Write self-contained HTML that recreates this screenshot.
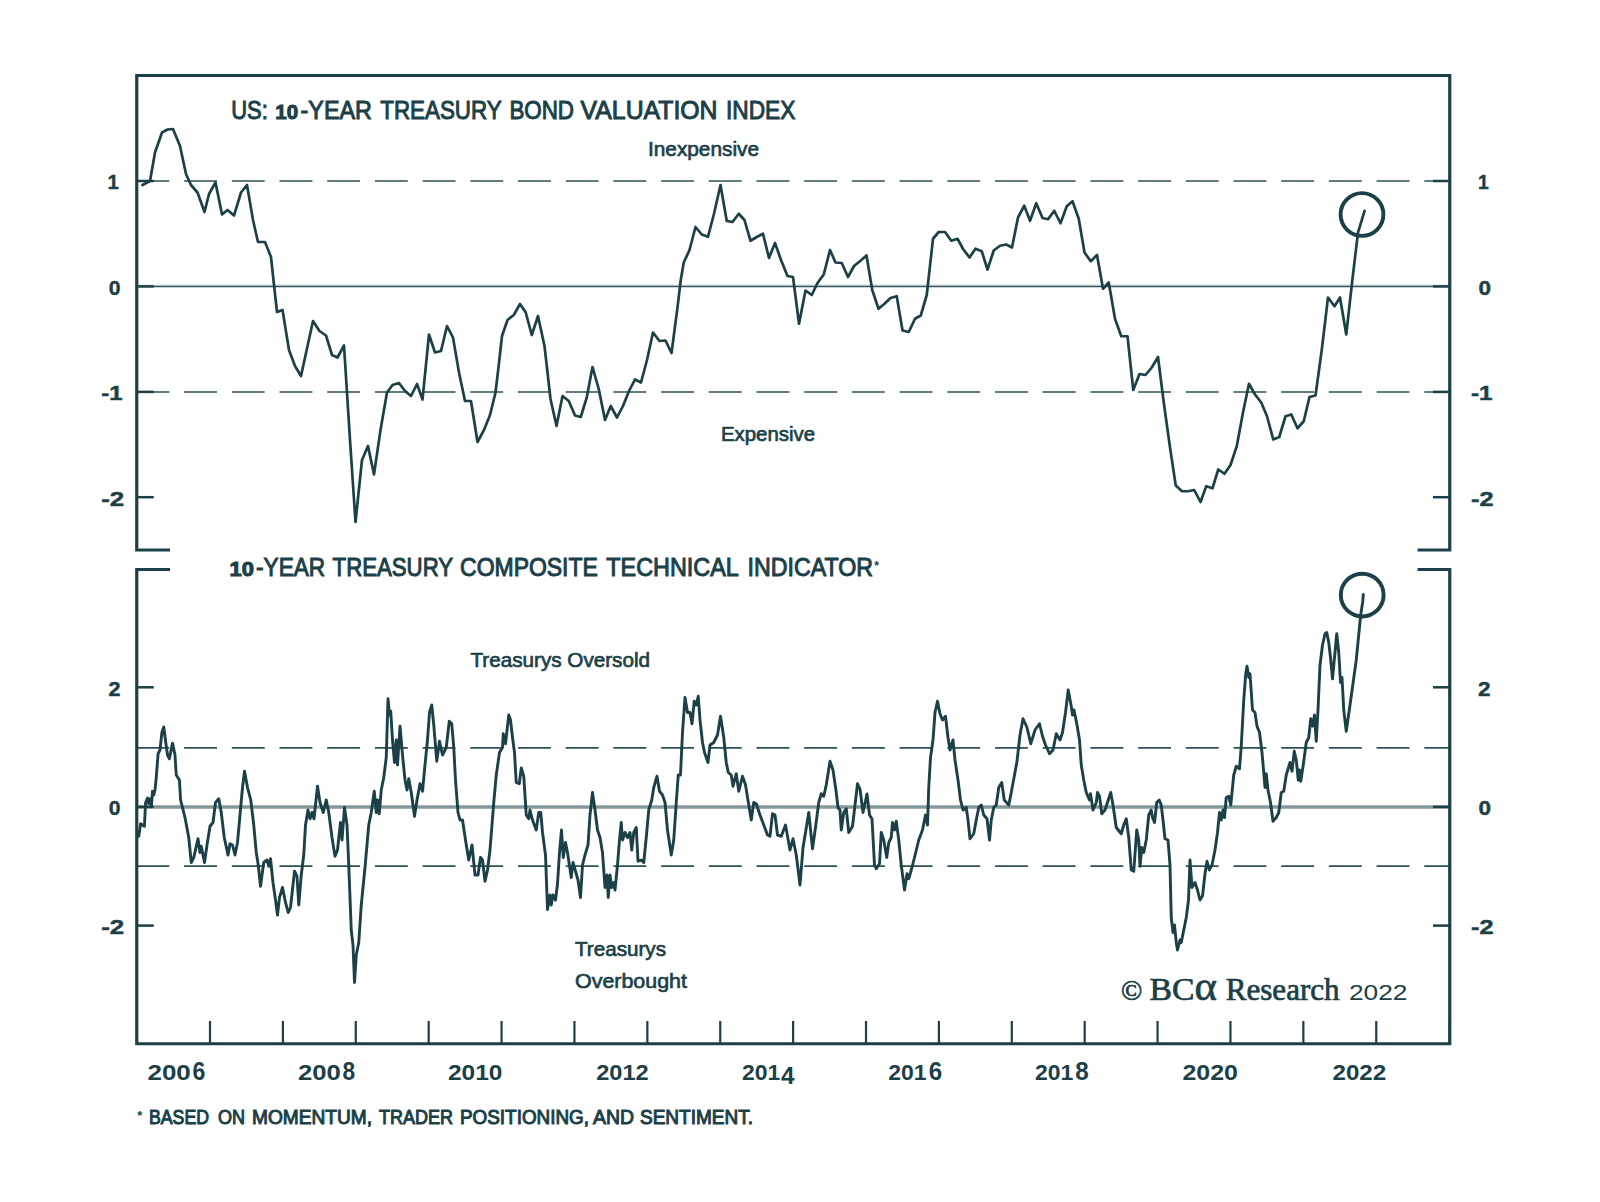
<!DOCTYPE html>
<html lang="en"><head><meta charset="utf-8"><title>US 10-Year Treasury Valuation and Technical Indicator</title>
<style>html,body{margin:0;padding:0;background:#fff}body{width:1600px;height:1202px;overflow:hidden}svg{display:block}text{font-family:"Liberation Sans",sans-serif;fill:#1b4047}.b{font-weight:bold}.sb{stroke:#1b4047;stroke-width:1px}.md{stroke:#1b4047;stroke-width:.65px}.yl{stroke:#1b4047;stroke-width:.45px}.ns{stroke:none}.sans{font-family:"Liberation Sans",sans-serif}.ser{font-family:"Liberation Serif",serif}</style></head><body>
<svg width="1600" height="1202" viewBox="0 0 1600 1202">
<rect width="1600" height="1202" fill="#fff"/>
<g fill="none" stroke="#2f5056" stroke-width="1.7" stroke-dasharray="32.9 14.8">
<line x1="136.4" y1="181.0" x2="1449.75" y2="181.0"/>
<line x1="136.4" y1="392.0" x2="1449.75" y2="392.0"/>
<line x1="136.4" y1="747.9" x2="1449.75" y2="747.9"/>
<line x1="136.4" y1="866.1" x2="1449.75" y2="866.1"/>
</g>
<line x1="136.75" y1="285.3" x2="1449.75" y2="285.3" stroke="#d6e0de" stroke-width="1.6"/>
<line x1="136.75" y1="286.5" x2="1449.75" y2="286.5" stroke="#35555a" stroke-width="1.5"/>
<line x1="136.75" y1="807" x2="1449.75" y2="807" stroke="#86999a" stroke-width="3.3"/>
<g fill="none" stroke="#1b4047" stroke-width="3.2" stroke-linejoin="miter">
<polyline points="170,550 136.75,550 136.75,75.5 1449.75,75.5 1449.75,550 1417.5,550"/>
<polyline points="170,569.5 136.75,569.5 136.75,1043.75 1449.75,1043.75 1449.75,569.5 1417.5,569.5"/>
</g>
<g stroke="#1b4047" stroke-width="2.5">
<line x1="136.75" y1="181.0" x2="153.75" y2="181.0"/><line x1="1433" y1="181.0" x2="1449.75" y2="181.0"/>
<line x1="136.75" y1="286.4" x2="153.75" y2="286.4"/><line x1="1433" y1="286.4" x2="1449.75" y2="286.4"/>
<line x1="136.75" y1="391.9" x2="153.75" y2="391.9"/><line x1="1433" y1="391.9" x2="1449.75" y2="391.9"/>
<line x1="136.75" y1="497.2" x2="153.75" y2="497.2"/><line x1="1433" y1="497.2" x2="1449.75" y2="497.2"/>
<line x1="136.75" y1="687.3" x2="153.75" y2="687.3"/><line x1="1433" y1="687.3" x2="1449.75" y2="687.3"/>
<line x1="136.75" y1="806.9" x2="153.75" y2="806.9"/><line x1="1433" y1="806.9" x2="1449.75" y2="806.9"/>
<line x1="136.75" y1="925.6" x2="153.75" y2="925.6"/><line x1="1433" y1="925.6" x2="1449.75" y2="925.6"/>
</g>
<g stroke="#1b4047" stroke-width="2.2">
<line x1="210.00" y1="1021" x2="210.00" y2="1043.75"/>
<line x1="282.89" y1="1021" x2="282.89" y2="1043.75"/>
<line x1="355.78" y1="1021" x2="355.78" y2="1043.75"/>
<line x1="428.67" y1="1021" x2="428.67" y2="1043.75"/>
<line x1="501.56" y1="1021" x2="501.56" y2="1043.75"/>
<line x1="574.45" y1="1021" x2="574.45" y2="1043.75"/>
<line x1="647.34" y1="1021" x2="647.34" y2="1043.75"/>
<line x1="720.23" y1="1021" x2="720.23" y2="1043.75"/>
<line x1="793.12" y1="1021" x2="793.12" y2="1043.75"/>
<line x1="866.01" y1="1021" x2="866.01" y2="1043.75"/>
<line x1="938.90" y1="1021" x2="938.90" y2="1043.75"/>
<line x1="1011.79" y1="1021" x2="1011.79" y2="1043.75"/>
<line x1="1084.68" y1="1021" x2="1084.68" y2="1043.75"/>
<line x1="1157.57" y1="1021" x2="1157.57" y2="1043.75"/>
<line x1="1230.46" y1="1021" x2="1230.46" y2="1043.75"/>
<line x1="1303.35" y1="1021" x2="1303.35" y2="1043.75"/>
<line x1="1376.24" y1="1021" x2="1376.24" y2="1043.75"/>
<line x1="1449.75" y1="1021" x2="1449.75" y2="1043.75"/>
</g>
<polyline fill="none" stroke="#1b4047" stroke-width="2.7" stroke-linejoin="round" stroke-linecap="round" points="142.5,185 150,181 155,152.5 162,132.5 167.5,129.5 173,129 180,146 186,174 191,185 197.5,192.5 204.5,212 209,194 215.5,182.5 222,214.5 227.5,210 234,215.5 241,192.5 247,185 253,220 258,242 265,242 271,257 274,285 277,312 282.5,310 289,350 295,366 301,376 313,321 319.5,331 326,335.5 332,355 337.5,357.5 344,345.5 350,440 355.5,522 362,460 368,446 374,474.5 380.5,430 387,392.5 392.5,385 399,383 405,391 411,396 417,384 422.5,399.5 429,334.5 435,352.5 441,351 447,326 453,337.5 459,372.5 465,401 471,401 477.5,442 484,430 490,415 495.5,392.5 498.75,365 502,336 507.5,320 513.75,315 520,304 525.75,312.5 531.75,335 538,316 544.5,346 550.5,399 556.5,426 562.5,396 568.75,401 575,415.5 580.75,417 586.75,397.5 592.5,367 598.75,389 605,420 610.75,406 617,417.5 623,406 629,391 635,379.5 641,382.5 647,360 653,332.5 659.5,341 665.5,340.5 671.5,353 677.5,307.5 680.75,280 683.75,262.5 689.5,250 695.5,227 701.75,234.5 708,236.75 714,213.75 720.5,185 726.75,221 732.5,222 738.75,213.75 744.5,220 750.5,240.75 756.75,237 763,233.75 769,258 775,243 781,260 787.5,276 793,277 799,323.75 805.5,290.5 811.75,295 817.5,283 823.75,274.5 830,250 835.5,262.5 841.75,263 848,277 854,266 860.5,260.75 866.5,255.5 872.25,290 878.5,308.75 884.5,303.75 890.5,298 896.75,296.25 902.5,330.5 908.75,332 915,318.75 920.75,315.5 926.75,295 933,238.75 938.75,232 945,232 951.25,240.75 957.5,238.75 963.25,249.25 969.5,257.5 975.5,248.75 981.75,251.25 987.5,269.5 993.75,250.5 1000,245.75 1006.25,244.5 1012,247.5 1018,217.5 1024.25,205.75 1030,220.75 1036.25,203.25 1042.5,218 1048,219.25 1054.25,210.75 1060.5,223.25 1066.75,206.25 1072.5,201.25 1078.75,218.75 1084.5,252.5 1090.75,261.25 1097,255 1103,288.75 1108.75,282.5 1115,318.75 1121.25,336.25 1127.5,336.25 1133.25,390 1139.5,374 1145.5,375 1151.75,367.5 1158,357 1163.75,402.5 1170,447.5 1175.75,485.5 1182,491.25 1188,491.25 1194.25,490 1200.5,502 1206.25,486.25 1212.5,488.25 1218.25,469.5 1224.5,473.75 1230.5,465 1236.75,446.25 1243,412.5 1249,383.75 1255,394.5 1261.25,402.5 1267,416.25 1273.25,439.5 1279.25,437 1285.5,416.25 1291.25,414.5 1297.5,428.25 1303.75,421.25 1309.5,397 1315.5,395.5 1321.75,350 1328,297.5 1334.5,306.25 1340,297.5 1346.25,334.5 1352,283 1358,232.5 1364.6,210.8"/>
<polyline fill="none" stroke="#1b4047" stroke-width="2.9" stroke-linejoin="round" stroke-linecap="round" points="138.75,836.25 140.6,823.75 144.4,826.25 145.6,802.5 147.5,798.1 148.75,803.75 150,798.75 151.5,805 152.5,791.25 153.75,795 155,790 156.25,777.5 158.1,753.75 160,750 161.9,732.5 163.75,726.9 165.6,741.25 167.5,755 169.4,758.75 172.5,743.1 175,755 176.25,775 179.4,780 180.6,800 185,817.5 188.75,837.5 191.25,862.5 193.75,857.5 198,838.75 200,852.5 201.25,846.25 204.5,862.5 207,845 210,826.25 213,822.5 215.5,802.5 218.75,798.75 221.25,812.5 224.25,837.5 228,855 230,843.75 232.5,845 235,855 237.5,842.5 240,815 242.5,787.5 244.5,771.25 247.5,787.5 250.75,800 253.75,825 256.25,852.5 258.25,865 260.5,886.25 263.75,862.5 267,860 268.75,866.25 270.5,858.75 273,882.5 275.5,900 277.5,915 279.5,897.5 282.5,887.5 285.5,902.5 288.25,912.5 290.5,907.5 294.5,871.25 297,876.25 298.75,905 301.25,875 303.75,855 305.5,825 308,810 310,818.75 312,812.5 314,818.75 317.5,786.25 320,802.5 323.25,812.5 326.25,800 328.75,812.5 332,837.5 335,856.25 337.5,850 340.5,822.5 342,840 344.5,807.5 347,825 348.75,865 351.25,930 353,945 354.5,982.5 356.25,955 358.75,942.5 361.25,905 365,867.5 368.75,825 371.25,812.5 374.25,791.25 376.25,812.5 377.5,800 379.25,813.75 381.25,790 383.75,777.5 386.25,757.5 388,698.75 389.5,715 390.75,711.25 392.5,740 394.5,762.5 396.25,740 397.5,765 400,726.25 402.5,755 405,780 407,790 408.75,778.75 411.25,792.5 414.5,816.25 417,800 420,783.75 422.5,791.25 425,765 427.5,740 429.5,712.5 431.75,705 433.75,725 436.75,761.25 439.5,741.25 442.5,755 446.25,747.5 449.25,721.25 451.75,723.75 453.75,747.5 455.5,780 458,812.5 460,820 462.5,820 465.5,840 468.75,860 472,845 475,875 478,875 480.5,857.5 482.5,860 485,881.25 487.5,870 490,850 493.75,802.5 496.25,775 499.5,752.5 502.5,747.5 503.25,733.75 505.5,743.75 508.75,715 510.5,720 512.5,737.5 514.5,752.5 516.25,782.5 519.25,783.75 521.25,768 523.75,776.25 526.25,815 528.75,818.75 530,810 532.5,820 536.25,830 538.75,812.5 540.75,812.5 542.5,832.5 545.5,855 547.5,909.5 550,895 551.25,905 553,895 555.5,900 557.5,883.75 559.5,852.5 561.5,830 563.25,857.5 565.5,842.5 567.5,852.5 571.25,877.5 573,862.5 576.25,873.75 578,880 580.5,897.5 582.5,865 585,855 588,845 590,815 592.5,792.5 595,810 597.5,830 600,837.5 602.5,852.5 605,887.5 607,875 608.25,897.5 610,875 611.75,887.5 613.75,882.5 615,890 617.5,865 619.5,840 621.25,822.5 622.5,840 625,832.5 627.5,837.5 630,832.5 631.75,850 633.75,832.5 636.25,827.5 638,861.25 641.25,860 643.75,862.5 646.25,837.5 648.75,810 651.75,800 653.75,787.5 657,776.25 659.5,791.25 662.5,795 665,802.5 667.5,830 671.25,855 673.75,840 676.25,802.5 678.25,775 680.5,775 682.5,732.5 685,697.5 687.5,712.5 690,712.5 692,723.75 694.25,701.25 696.25,705 698.25,696.25 700,720 702.5,742.5 704.5,752.5 708,762.5 710,745 713.75,742.5 717.5,735 720.5,716.25 723.75,737.5 726.25,762.5 728.25,772.5 731.25,775 733,786.25 736.25,773.75 738.75,791.25 742.5,776.25 745.5,785 748.75,805 751.25,820 753.75,802.5 756.25,803.75 760,815 763.75,825 767.5,835 770,836.25 772.5,813.75 775,815 777.5,835 781.25,836.25 785.5,825 790,850 793,838.75 796.25,855 800,885 803,847.5 805.5,832.5 808.75,812.5 812.5,848.75 815.5,827.5 818.75,802.5 821.25,793.75 823.75,796.25 826.25,785 830,761.25 833,770 836.25,792.5 838,807.5 840,810 841.25,830 843.75,812.5 846.25,808.75 848.75,832.5 852.5,826.25 855,805 857.5,783.75 860,789 863,812.5 867,794 869.5,815 872,819 874.5,865 876.25,868.75 879.5,863.75 881.25,832.5 883.75,840 886.75,857.5 888.75,842.5 891.25,837.5 892.5,822.5 894.5,830 896.25,821.25 898.75,840 901.25,865 904.5,890 907,873.75 908.75,878.75 911.25,870 914.5,857.5 918.75,840 922.5,830 925.5,815 927.5,825 928.75,787.5 930.5,757.5 933,740 935,712.5 937.5,701.25 940,713.75 942.5,720 945.5,716.25 948,737.5 950,750 953,740 955,760 958,780 960.5,800 963,810 966.25,807.5 968,820 970,838.75 973.75,833.75 976.25,820 978.75,807.5 981.25,805 983.75,815 987,818.75 989.5,840 991.25,820 993.75,807.5 996.25,805 998.75,787.5 1001.75,782.5 1004.25,800 1008.75,805 1011.25,792.5 1014.5,775 1017,761.25 1020,735 1023,718.75 1027,727.5 1030.75,743.75 1035,730 1039.5,723.75 1042.5,736.25 1045.5,745 1049.5,753.75 1053,750 1056.25,733.75 1060,740 1062.5,732.5 1065.5,712.5 1068.25,690 1071.25,706.25 1072.5,715 1074,710 1077,725 1079.5,740 1081.25,765 1083.75,780 1086.25,792.5 1089.5,800 1090.5,793.75 1093,810 1096.25,802.5 1097.5,792.5 1099.5,796.25 1101.75,813.75 1105,810 1108.25,800 1110.75,792.5 1113,805 1116.25,827.5 1121.25,833.75 1123.75,825 1126.25,818.75 1128.75,837.5 1131.25,870 1133.75,871.25 1136.75,830 1138.75,840 1140,866.25 1141.75,847.5 1143.75,852.5 1146.25,840 1148.75,815 1151.25,810 1152.5,817.5 1154.5,822.5 1156.75,802.5 1159.25,800 1161.25,805 1163,820 1165,838.75 1168,840 1170,865 1171.25,917.5 1173,932.5 1174.5,925 1176.25,942.5 1177.5,950 1180,940 1181.25,942.5 1183.75,930 1186.25,917.5 1188.5,900 1190,860 1192,887.5 1195,882.5 1197.5,890 1200,900 1202.5,896 1205,873.75 1207,861.25 1209.25,870 1212,865 1215,850 1217.5,832.5 1219.5,812.5 1221.25,820 1223,810 1224.5,817.5 1226.25,797.5 1228.75,796.25 1230.75,805 1233.75,775 1236.25,766.25 1239.5,768.75 1241.25,746.25 1243.75,700 1245.75,673.75 1247,666.25 1248.75,677.5 1250,673.75 1252.5,710 1255,712.5 1257,726.25 1259.5,732.5 1262,752.5 1263.75,772.5 1265,787.5 1266.25,773.75 1268,790 1270.5,802.5 1273,821.25 1276.25,817.5 1278.75,812.5 1281.25,792.5 1283.75,791.25 1286.25,775 1290,762.5 1292,771.25 1294.25,751.25 1296.25,760 1298.25,780 1299.5,770 1300.75,781.25 1303.25,765 1306.25,742.5 1308.75,737.5 1310.75,718.75 1312.5,726.25 1314.5,715 1316.25,741.25 1318,710 1320,665 1322.5,645 1325,633.75 1326.75,632.5 1328.75,642.5 1330.5,657.5 1332.5,678.75 1335,652.5 1336.75,633.75 1338.75,652.5 1340.5,682.5 1342,677.5 1343.75,710 1346.25,731.25 1350,705 1356.25,660 1358.7,635 1360.7,615 1362.7,601.7 1363.3,594.5"/>
<circle cx="1362" cy="214.5" r="21.4" fill="none" stroke="#1b4047" stroke-width="3.9"/>
<circle cx="1362.2" cy="595.1" r="21.4" fill="none" stroke="#1b4047" stroke-width="3.9"/>
<text class="sb" y="118.6" font-size="25.5"><tspan x="231.25" textLength="36.55" lengthAdjust="spacingAndGlyphs">US:</tspan> <tspan x="275.3" y="118.7" font-size="20.5" class="b" textLength="22.7" lengthAdjust="spacingAndGlyphs">10</tspan><tspan x="300.6" y="118.6" textLength="71.3" lengthAdjust="spacingAndGlyphs">-YEAR</tspan> <tspan x="380.3" textLength="120.95" lengthAdjust="spacingAndGlyphs">TREASURY</tspan> <tspan x="509.4" textLength="64.6" lengthAdjust="spacingAndGlyphs">BOND</tspan> <tspan x="580.6" textLength="136.9" lengthAdjust="spacingAndGlyphs">VALUATION</tspan> <tspan x="726" textLength="69.3" lengthAdjust="spacingAndGlyphs">INDEX</tspan></text>
<text class="md" x="648" y="156" font-size="20" textLength="111" lengthAdjust="spacingAndGlyphs">Inexpensive</text>
<text class="md" x="721" y="441" font-size="20" textLength="94" lengthAdjust="spacingAndGlyphs">Expensive</text>
<text class="sb" y="576.3" font-size="25.5"><tspan x="229.6" y="576.4" font-size="20.5" class="b" textLength="24.4" lengthAdjust="spacingAndGlyphs">10</tspan><tspan x="256.1" y="576.3" textLength="69.1" lengthAdjust="spacingAndGlyphs">-YEAR</tspan> <tspan x="332.6" textLength="120.1" lengthAdjust="spacingAndGlyphs">TREASURY</tspan> <tspan x="460.1" textLength="137.7" lengthAdjust="spacingAndGlyphs">COMPOSITE</tspan> <tspan x="606.3" textLength="131.7" lengthAdjust="spacingAndGlyphs">TECHNICAL</tspan> <tspan x="747.6" textLength="125.4" lengthAdjust="spacingAndGlyphs">INDICATOR</tspan><tspan x="874.3" y="570.3" font-size="12" class="b ns">*</tspan></text>
<text class="md" x="470.5" y="666.5" font-size="20" textLength="179.5" lengthAdjust="spacingAndGlyphs">Treasurys Oversold</text>
<text class="md" x="575" y="955.8" font-size="20.3" textLength="91" lengthAdjust="spacingAndGlyphs">Treasurys</text>
<text class="md" x="575" y="987.8" font-size="20.3" textLength="112" lengthAdjust="spacingAndGlyphs">Overbought</text>
<text class="ser" y="1000" font-size="31" stroke="#1b4047" stroke-width=".7"><tspan x="1121" font-size="28">©</tspan> <tspan x="1149.6" textLength="44.9" lengthAdjust="spacingAndGlyphs">BC</tspan><tspan x="1194.5" font-size="43" textLength="22.5" lengthAdjust="spacingAndGlyphs">α</tspan> <tspan x="1225.8" textLength="113.8" lengthAdjust="spacingAndGlyphs">Research</tspan> <tspan x="1349" font-size="22" textLength="58.5" lengthAdjust="spacingAndGlyphs" class="sans ns">2022</tspan></text>
<text class="b" x="448" y="1080" font-size="21.5" textLength="54.5" lengthAdjust="spacingAndGlyphs">2010</text>
<text class="b" x="596.25" y="1080" font-size="21.5" textLength="52.5" lengthAdjust="spacingAndGlyphs">2012</text>
<text class="b" x="1182.5" y="1080" font-size="21.5" textLength="55.5" lengthAdjust="spacingAndGlyphs">2020</text>
<text class="b" x="1332.5" y="1080" font-size="21.5" textLength="53.75" lengthAdjust="spacingAndGlyphs">2022</text>
<text class="b" y="1080" font-size="21.5"><tspan x="147.5" textLength="43.3" lengthAdjust="spacingAndGlyphs">200</tspan><tspan x="192.4" font-size="25.5" textLength="12.8" lengthAdjust="spacingAndGlyphs">6</tspan></text>
<text class="b" y="1080" font-size="21.5"><tspan x="298" textLength="42.8" lengthAdjust="spacingAndGlyphs">200</tspan><tspan x="342.4" font-size="25.5" textLength="12.6" lengthAdjust="spacingAndGlyphs">8</tspan></text>
<text class="b" y="1080" font-size="21.5"><tspan x="888.25" textLength="38.25" lengthAdjust="spacingAndGlyphs">201</tspan><tspan x="928.75" font-size="25.5" textLength="13.5" lengthAdjust="spacingAndGlyphs">6</tspan></text>
<text class="b" y="1080" font-size="21.5"><tspan x="1035" textLength="38.3" lengthAdjust="spacingAndGlyphs">201</tspan><tspan x="1075.3" font-size="25.5" textLength="13.45" lengthAdjust="spacingAndGlyphs">8</tspan></text>
<text class="b" y="1080" font-size="21.5"><tspan x="742" textLength="38.25" lengthAdjust="spacingAndGlyphs">201</tspan><tspan x="781" y="1083.75" font-size="24" textLength="13.5" lengthAdjust="spacingAndGlyphs">4</tspan></text>
<text class="b yl" x="107.5" y="189.05" font-size="20" textLength="11.25" lengthAdjust="spacingAndGlyphs">1</text>
<text class="b yl" x="1478" y="189.05" font-size="20" textLength="10.75" lengthAdjust="spacingAndGlyphs">1</text>
<text class="b yl" x="108.75" y="294.5" font-size="20" textLength="11.75" lengthAdjust="spacingAndGlyphs">0</text>
<text class="b yl" x="1478.5" y="294.5" font-size="20" textLength="12.5" lengthAdjust="spacingAndGlyphs">0</text>
<text class="b yl" x="101.25" y="399.90000000000003" font-size="20" textLength="21.25" lengthAdjust="spacingAndGlyphs">-1</text>
<text class="b yl" x="1471" y="399.90000000000003" font-size="20" textLength="21.5" lengthAdjust="spacingAndGlyphs">-1</text>
<text class="b yl" x="101.25" y="505.5" font-size="20" textLength="23" lengthAdjust="spacingAndGlyphs">-2</text>
<text class="b yl" x="1471" y="505.5" font-size="20" textLength="22.5" lengthAdjust="spacingAndGlyphs">-2</text>
<text class="b yl" x="108.5" y="695.5999999999999" font-size="20" textLength="12" lengthAdjust="spacingAndGlyphs">2</text>
<text class="b yl" x="1478" y="695.5999999999999" font-size="20" textLength="12.5" lengthAdjust="spacingAndGlyphs">2</text>
<text class="b yl" x="108.75" y="815.1999999999999" font-size="20" textLength="11.75" lengthAdjust="spacingAndGlyphs">0</text>
<text class="b yl" x="1478.5" y="815.1999999999999" font-size="20" textLength="12.5" lengthAdjust="spacingAndGlyphs">0</text>
<text class="b yl" x="101.25" y="933.9" font-size="20" textLength="23" lengthAdjust="spacingAndGlyphs">-2</text>
<text class="b yl" x="1471" y="933.9" font-size="20" textLength="22.5" lengthAdjust="spacingAndGlyphs">-2</text>
<text class="sb" y="1124" font-size="19.5"><tspan x="137.3" y="1120" font-size="13" class="b ns">*</tspan> <tspan x="149" y="1124" textLength="60" lengthAdjust="spacingAndGlyphs">BASED</tspan> <tspan x="218" textLength="27" lengthAdjust="spacingAndGlyphs">ON</tspan> <tspan x="252" textLength="120" lengthAdjust="spacingAndGlyphs">MOMENTUM,</tspan> <tspan x="379" textLength="74" lengthAdjust="spacingAndGlyphs">TRADER</tspan> <tspan x="460" textLength="129" lengthAdjust="spacingAndGlyphs">POSITIONING,</tspan> <tspan x="593" textLength="41" lengthAdjust="spacingAndGlyphs">AND</tspan> <tspan x="640" textLength="113" lengthAdjust="spacingAndGlyphs">SENTIMENT.</tspan></text>
</svg></body></html>
